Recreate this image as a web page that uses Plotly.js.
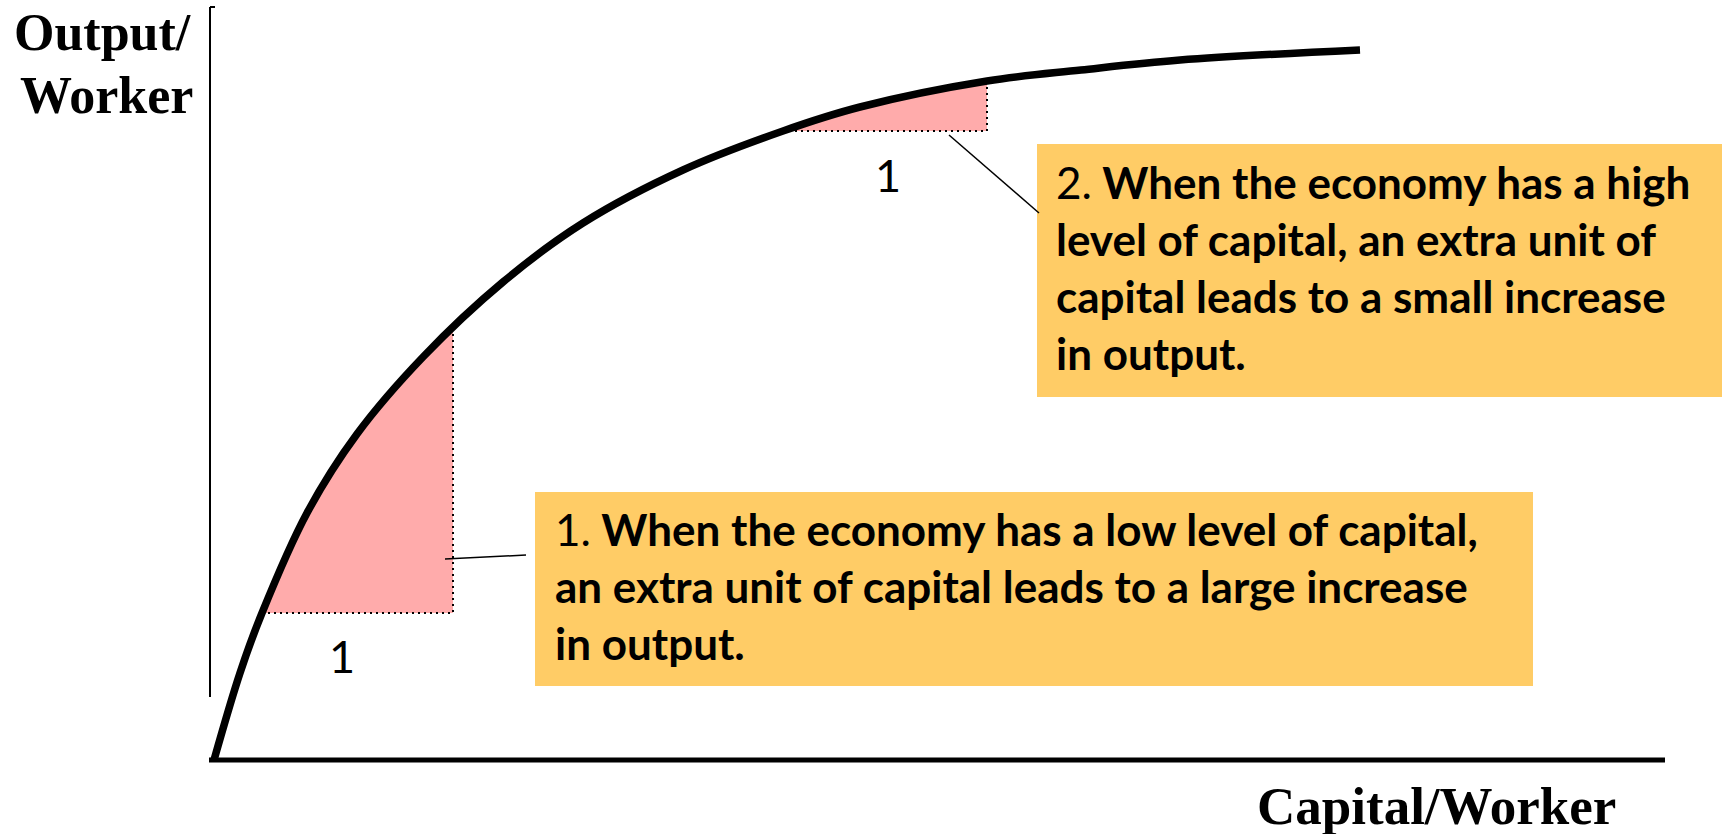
<!DOCTYPE html>
<html>
<head>
<meta charset="utf-8">
<script src="https://cdn.plot.ly/plotly-3.0.1.min.js"></script>
<style>html,body{margin:0;padding:0;background:#fff;}#chart{width:1725px;height:834px;}</style>
</head>
<body>
<div id="chart"></div>
<script>
// Production function: capital per worker vs output per worker
const capital = [0.04, 0.30, 0.52, 0.97, 1.47, 2.13, 2.93, 3.73, 4.73, 5.73, 6.50, 7.77, 8.71, 9.70, 11.50];
const output  = [0.00, 0.87, 1.47, 2.47, 3.26, 4.03, 4.78, 5.37, 5.90, 6.29, 6.53, 6.79, 6.90, 7.00, 7.10];

// The two "extra unit of capital" steps
const stepStart = [0.52, 5.73];
const stepEnd   = [2.43, 7.77];
const stepLabels = ['1', '1'];

const axisTitleY = ['Output/', 'Worker'];
const axisTitleX = 'Capital/Worker';

const box1Lines = ['1.<b> When the economy has a low level of capital,</b>',
                   '<b>an extra unit of capital leads to a large increase</b>',
                   '<b>in output.</b>'];
const box2Lines = ['2.<b> When the economy has a high</b>',
                   '<b>level of capital, an extra unit of</b>',
                   '<b>capital leads to a small increase</b>',
                   '<b>in output.</b>'];

function curveAt(k) {
  for (let i = 0; i < capital.length - 1; i++) {
    if (k >= capital[i] && k <= capital[i + 1]) {
      const t = (k - capital[i]) / (capital[i + 1] - capital[i]);
      return output[i] + t * (output[i + 1] - output[i]);
    }
  }
  return output[output.length - 1];
}

const PINK = '#FFABAB';
const BOX = '#FFCC66';
const traces = [];
const SPLINE = {shape: 'spline', smoothing: 1};

// pink areas: between the base line of each step and the curve
stepStart.forEach((s, i) => {
  const e = stepEnd[i];
  const ys = curveAt(s), ye = curveAt(e) + 0.02;
  const xs = [s], yv = [ys];
  capital.forEach((k, j) => { if (k > s + 0.01 && k < e - 0.01) { xs.push(k); yv.push(output[j]); } });
  xs.push(e); yv.push(ye);
  traces.push({x: [s, e], y: [ys, ys], mode: 'lines', line: {width: 0, color: PINK},
               hoverinfo: 'skip', type: 'scatter'});
  traces.push({x: xs, y: yv, mode: 'lines', fill: 'tonexty', fillcolor: PINK,
               line: Object.assign({width: 0, color: PINK}, SPLINE), hoverinfo: 'skip', type: 'scatter'});
});
// dotted edges
stepStart.forEach((s, i) => {
  const e = stepEnd[i];
  const ys = curveAt(s), ye = curveAt(e);
  traces.push({x: [s, e, e], y: [ys, ys, ye - 0.03], mode: 'lines',
               line: {color: '#000', width: 2, dash: '2px,4px'}, hoverinfo: 'skip', type: 'scatter'});
});
// production curve
traces.push({x: capital, y: output, mode: 'lines', type: 'scatter',
             line: Object.assign({color: '#000', width: 7.5}, SPLINE), hoverinfo: 'skip'});

const FS = 44;
const FONT = 'Lato';
const annotations = [];
function addLine(text, x, yCenter, size, family, xanchor) {
  annotations.push({x: x, y: yCenter, xref: 'x', yref: 'y', text: text, showarrow: false,
                    xanchor: xanchor, yanchor: 'middle', align: xanchor === 'right' ? 'right' : 'left',
                    font: {family: family, size: size, color: '#000'}});
}
box1Lines.forEach((t, i) => addLine(t, 3.43, 2.31 - 0.57 * i, FS, FONT, 'left'));
box2Lines.forEach((t, i) => addLine(t, 8.44, 5.78 - 0.57 * i, FS, FONT, 'left'));
stepLabels.forEach((t, i) => {
  const pos = i === 0 ? [1.32, 1.04] : [6.78, 5.85];
  addLine(t, pos[0], pos[1], 45, FONT, 'center');
});
addLine('<b>' + axisTitleY[0] + '</b>', -0.17, 7.275, 52, 'Liberation Serif', 'right');
addLine('<b>' + axisTitleY[1] + '</b>', -0.15, 6.645, 52, 'Liberation Serif', 'right');
addLine('<b>' + axisTitleX + '</b>', 12.26, -0.455, 53, 'Liberation Serif', 'center');

const shapes = [
  {type: 'rect', xref: 'x', yref: 'y', x0: 3.25, x1: 13.23, y0: 0.74, y1: 2.68, fillcolor: BOX, line: {width: 0}, layer: 'below'},
  {type: 'rect', xref: 'x', yref: 'y', x0: 8.27, x1: 15.12, y0: 3.63, y1: 6.16, fillcolor: BOX, line: {width: 0}, layer: 'below'},
  // axes
  {type: 'line', xref: 'x', yref: 'y', x0: 0, x1: 0, y0: 0.63, y1: 7.53, line: {color: '#000', width: 2}},
  {type: 'line', xref: 'x', yref: 'y', x0: 0, x1: 0.05, y0: 7.53, y1: 7.53, line: {color: '#000', width: 2}},
  {type: 'line', xref: 'x', yref: 'y', x0: -0.01, x1: 14.55, y0: 0, y1: 0, line: {color: '#000', width: 5}},
  // leader lines
  {type: 'line', xref: 'x', yref: 'y', x0: 2.35, x1: 3.16, y0: 2.01, y1: 2.05, line: {color: '#000', width: 1.5}},
  {type: 'line', xref: 'x', yref: 'y', x0: 7.39, x1: 8.29, y0: 6.25, y1: 5.47, line: {color: '#000', width: 1.5}}
];

const layout = {
  width: 1725, height: 834,
  margin: {l: 0, r: 0, t: 0, b: 0, pad: 0},
  paper_bgcolor: '#fff', plot_bgcolor: '#fff',
  showlegend: false, hovermode: false,
  xaxis: {range: [-2.10, 15.15], visible: false, fixedrange: true},
  yaxis: {range: [-0.74, 7.60], visible: false, fixedrange: true},
  shapes: shapes,
  annotations: annotations
};
Plotly.newPlot('chart', traces, layout, {staticPlot: true, displayModeBar: false});
</script>
</body>
</html>
